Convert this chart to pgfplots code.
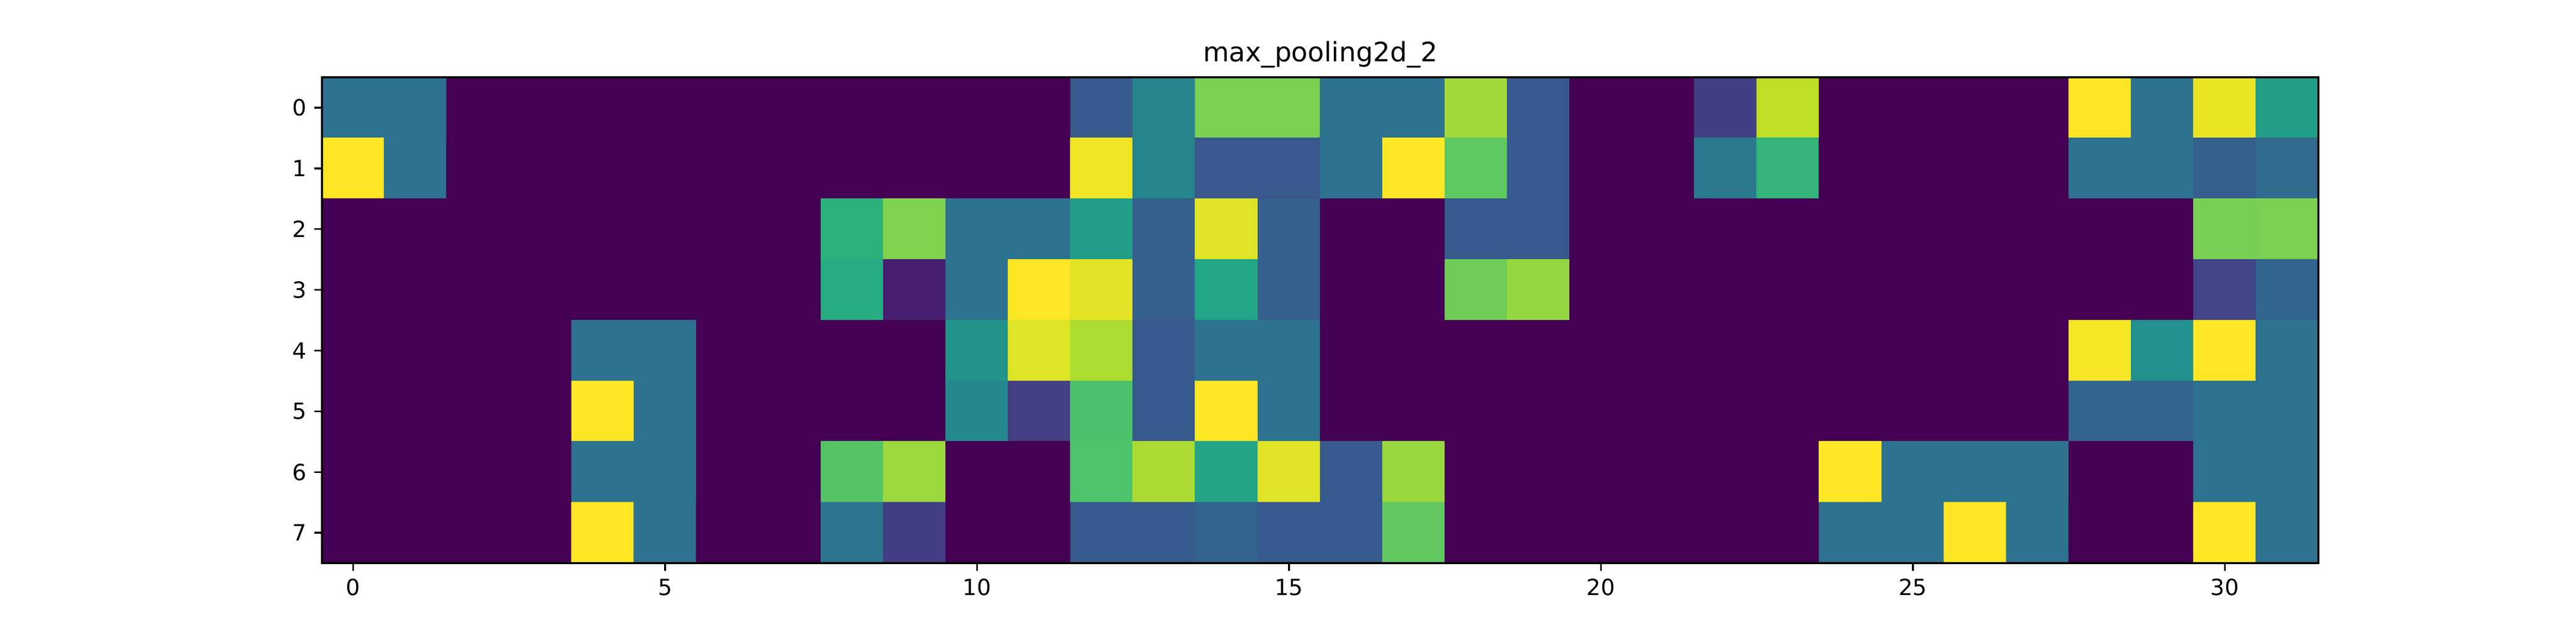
\documentclass[border=0pt]{standalone}
\usepackage{pgfplots}
\pgfplotsset{compat=1.18}
\usepackage{fontspec}
\setmainfont{DejaVu Sans}
\pgfplotsset{colormap={mplviridis}{
  rgb255(0)=(68,1,84) rgb255(1)=(72,36,117) rgb255(2)=(65,68,135) rgb255(3)=(53,95,141)
  rgb255(4)=(42,120,142) rgb255(5)=(33,145,140) rgb255(6)=(34,168,132) rgb255(7)=(68,191,112)
  rgb255(8)=(122,209,81) rgb255(9)=(189,223,38) rgb255(10)=(253,231,37)}}
\begin{document}
\begin{tikzpicture}
\begin{axis}[
  at={(0,0)}, anchor=south west,
  scale only axis, width=12.4in, height=3.018in,
  xmin=-0.5, xmax=31.5, ymin=-0.5, ymax=7.5,
  y dir=reverse, enlargelimits=false, axis on top,
  colormap name=mplviridis, point meta min=0, point meta max=1,
  xtick={0,5,...,30}, ytick={0,1,...,7},
  xtick pos=bottom, ytick pos=left,
  tick align=outside, major tick length=3.5pt,
  every tick/.style={black, line width=0.8pt},
  axis line style={line width=0.8pt},
  tick label style={font=\fontsize{10}{12}\selectfont},
  /pgf/number format/assume math mode=true,
  title={max\_pooling2d\_2},
  title style={font=\fontsize{12}{14}\selectfont, at={(0.5,1)}, anchor=base, yshift=1pt, inner sep=0pt},
]
\addplot[matrix plot*, mesh/cols=32, mesh/rows=8, point meta=explicit] coordinates {
(0,0) [0.375] (1,0) [0.375] (2,0) [0] (3,0) [0] (4,0) [0] (5,0) [0] (6,0) [0] (7,0) [0] (8,0) [0] (9,0) [0] (10,0) [0] (11,0) [0] (12,0) [0.28] (13,0) [0.45] (14,0) [0.8] (15,0) [0.8] (16,0) [0.375] (17,0) [0.375] (18,0) [0.857] (19,0) [0.28] (20,0) [0] (21,0) [0] (22,0) [0.18] (23,0) [0.9] (24,0) [0] (25,0) [0] (26,0) [0] (27,0) [0] (28,0) [1] (29,0) [0.375] (30,0) [0.97] (31,0) [0.557]
(0,1) [1] (1,1) [0.375] (2,1) [0] (3,1) [0] (4,1) [0] (5,1) [0] (6,1) [0] (7,1) [0] (8,1) [0] (9,1) [0] (10,1) [0] (11,1) [0] (12,1) [0.98] (13,1) [0.45] (14,1) [0.27] (15,1) [0.27] (16,1) [0.375] (17,1) [1] (18,1) [0.748] (19,1) [0.28] (20,1) [0] (21,1) [0] (22,1) [0.404] (23,1) [0.652] (24,1) [0] (25,1) [0] (26,1) [0] (27,1) [0] (28,1) [0.375] (29,1) [0.375] (30,1) [0.3] (31,1) [0.345]
(0,2) [0] (1,2) [0] (2,2) [0] (3,2) [0] (4,2) [0] (5,2) [0] (6,2) [0] (7,2) [0] (8,2) [0.635] (9,2) [0.81] (10,2) [0.375] (11,2) [0.375] (12,2) [0.556] (13,2) [0.3] (14,2) [0.953] (15,2) [0.3] (16,2) [0] (17,2) [0] (18,2) [0.28] (19,2) [0.28] (20,2) [0] (21,2) [0] (22,2) [0] (23,2) [0] (24,2) [0] (25,2) [0] (26,2) [0] (27,2) [0] (28,2) [0] (29,2) [0] (30,2) [0.795] (31,2) [0.8]
(0,3) [0] (1,3) [0] (2,3) [0] (3,3) [0] (4,3) [0] (5,3) [0] (6,3) [0] (7,3) [0] (8,3) [0.617] (9,3) [0.085] (10,3) [0.375] (11,3) [1] (12,3) [0.96] (13,3) [0.3] (14,3) [0.59] (15,3) [0.3] (16,3) [0] (17,3) [0] (18,3) [0.78] (19,3) [0.84] (20,3) [0] (21,3) [0] (22,3) [0] (23,3) [0] (24,3) [0] (25,3) [0] (26,3) [0] (27,3) [0] (28,3) [0] (29,3) [0] (30,3) [0.2] (31,3) [0.325]
(0,4) [0] (1,4) [0] (2,4) [0] (3,4) [0] (4,4) [0.375] (5,4) [0.375] (6,4) [0] (7,4) [0] (8,4) [0] (9,4) [0] (10,4) [0.51] (11,4) [0.95] (12,4) [0.876] (13,4) [0.28] (14,4) [0.375] (15,4) [0.375] (16,4) [0] (17,4) [0] (18,4) [0] (19,4) [0] (20,4) [0] (21,4) [0] (22,4) [0] (23,4) [0] (24,4) [0] (25,4) [0] (26,4) [0] (27,4) [0] (28,4) [0.99] (29,4) [0.5] (30,4) [1] (31,4) [0.375]
(0,5) [0] (1,5) [0] (2,5) [0] (3,5) [0] (4,5) [1] (5,5) [0.375] (6,5) [0] (7,5) [0] (8,5) [0] (9,5) [0] (10,5) [0.464] (11,5) [0.185] (12,5) [0.713] (13,5) [0.28] (14,5) [1] (15,5) [0.375] (16,5) [0] (17,5) [0] (18,5) [0] (19,5) [0] (20,5) [0] (21,5) [0] (22,5) [0] (23,5) [0] (24,5) [0] (25,5) [0] (26,5) [0] (27,5) [0] (28,5) [0.32] (29,5) [0.32] (30,5) [0.375] (31,5) [0.375]
(0,6) [0] (1,6) [0] (2,6) [0] (3,6) [0] (4,6) [0.375] (5,6) [0.375] (6,6) [0] (7,6) [0] (8,6) [0.73] (9,6) [0.848] (10,6) [0] (11,6) [0] (12,6) [0.72] (13,6) [0.87] (14,6) [0.585] (15,6) [0.953] (16,6) [0.28] (17,6) [0.845] (18,6) [0] (19,6) [0] (20,6) [0] (21,6) [0] (22,6) [0] (23,6) [0] (24,6) [1] (25,6) [0.375] (26,6) [0.375] (27,6) [0.375] (28,6) [0] (29,6) [0] (30,6) [0.375] (31,6) [0.375]
(0,7) [0] (1,7) [0] (2,7) [0] (3,7) [0] (4,7) [1] (5,7) [0.375] (6,7) [0] (7,7) [0] (8,7) [0.39] (9,7) [0.18] (10,7) [0] (11,7) [0] (12,7) [0.28] (13,7) [0.28] (14,7) [0.32] (15,7) [0.28] (16,7) [0.28] (17,7) [0.755] (18,7) [0] (19,7) [0] (20,7) [0] (21,7) [0] (22,7) [0] (23,7) [0] (24,7) [0.375] (25,7) [0.375] (26,7) [1] (27,7) [0.375] (28,7) [0] (29,7) [0] (30,7) [1] (31,7) [0.375]
};
\end{axis}
\pgfresetboundingbox
\path[use as bounding box] (-2in,-0.502in) rectangle (14in,3.498in);
\end{tikzpicture}
\end{document}
